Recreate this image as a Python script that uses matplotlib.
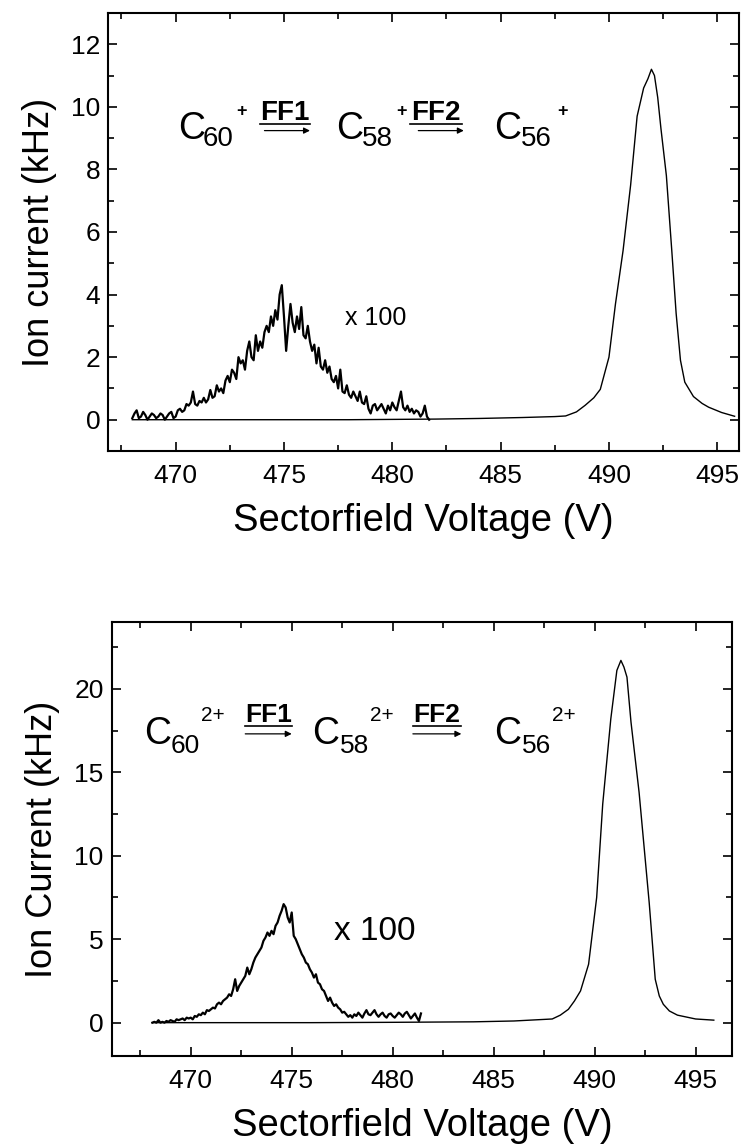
import matplotlib
matplotlib.use("Agg")
import matplotlib.pyplot as plt
import numpy as np
from matplotlib.ticker import MultipleLocator

plt.rcParams['font.family'] = ['Liberation Sans', 'DejaVu Sans']

# ---------------- data: top panel (C60+) ----------------
top_main_x = [468.0, 470.0, 472.0, 474.0, 476.0, 478.0, 480.0, 482.0, 484.0, 486.0,
              487.5, 488.0, 488.5, 488.9, 489.3, 489.6, 490.0, 490.3, 490.65, 491.0,
              491.3, 491.6, 491.8, 491.96, 492.1, 492.25, 492.4, 492.65, 492.9, 493.1,
              493.3, 493.5, 493.9, 494.3, 494.6, 495.2, 495.8]
top_main_y = [0.0, 0.0, 0.0, 0.0, 0.0, 0.0, 0.01, 0.02, 0.04, 0.07,
              0.1, 0.12, 0.25, 0.46, 0.7, 0.97, 2.0, 3.7, 5.4, 7.5,
              9.7, 10.6, 10.9, 11.2, 11.0, 10.3, 9.3, 7.8, 5.4, 3.4,
              1.9, 1.2, 0.74, 0.52, 0.4, 0.23, 0.11]

top_x100_start = 468.0
top_x100_step = 0.1
top_x100_y = [0.05, 0.2, 0.3, 0.05, 0.1, 0.25, 0.15, 0.0, 0.1, 0.2,
              0.15, 0.05, 0.1, 0.2, 0.15, 0.0, 0.1, 0.2, 0.25, 0.05,
              0.1, 0.3, 0.35, 0.25, 0.3, 0.5, 0.45, 0.55, 0.9, 0.5,
              0.45, 0.6, 0.55, 0.7, 0.55, 0.65, 0.95, 0.7, 0.75, 1.1,
              0.9, 1.0, 0.85, 1.25, 1.4, 1.2, 1.6, 1.5, 1.3, 2.0,
              1.8, 1.9, 1.6, 2.2, 2.5, 2.0, 1.9, 2.7, 2.2, 2.5,
              2.3, 2.8, 3.0, 2.8, 3.3, 3.0, 3.5, 3.2, 4.0, 4.3,
              3.3, 2.2, 3.0, 3.7, 3.1, 2.8, 3.3, 2.9, 3.6, 2.7,
              2.6, 3.0, 2.5, 2.2, 2.4, 1.8, 2.3, 1.7, 1.6, 1.9,
              1.5, 1.7, 1.3, 1.2, 1.4, 1.0, 1.6, 0.9, 0.85, 1.1,
              0.8, 0.7, 0.9, 0.75, 0.6, 0.9, 0.55, 0.5, 0.75, 0.35,
              0.2, 0.45, 0.5, 0.3, 0.4, 0.5, 0.35, 0.2, 0.45, 0.3,
              0.55, 0.4, 0.3, 0.6, 0.9, 0.4, 0.3, 0.45, 0.25, 0.35,
              0.2, 0.3, 0.25, 0.1, 0.2, 0.45, 0.1, 0.0]

# ---------------- data: bottom panel (C60 2+) ----------------
bot_main_x = [468.1, 472.0, 476.0, 480.0, 484.0, 486.0, 487.9, 488.3, 488.7, 489.0,
              489.3, 489.7, 490.1, 490.4, 490.8, 491.1, 491.3, 491.45, 491.6, 491.8,
              492.2, 492.7, 493.0, 493.2, 493.4, 493.7, 494.1, 495.0, 495.9]
bot_main_y = [0.0, 0.0, 0.0, 0.02, 0.05, 0.1, 0.22, 0.45, 0.8, 1.3,
              1.9, 3.5, 7.5, 13.1, 18.2, 21.1, 21.7, 21.3, 20.7, 18.0,
              13.8, 7.2, 2.6, 1.6, 1.1, 0.7, 0.45, 0.22, 0.15]

bot_x100_start = 468.1
bot_x100_step = 0.1
bot_x100_y = [0.0, 0.05, 0.0, 0.15, 0.0, 0.05, 0.0, 0.1, 0.05, 0.15,
              0.1, 0.05, 0.2, 0.15, 0.2, 0.25, 0.15, 0.3, 0.25, 0.3,
              0.2, 0.4, 0.35, 0.5, 0.45, 0.6, 0.5, 0.75, 0.7, 0.8,
              0.9, 0.85, 1.1, 1.2, 1.1, 1.3, 1.4, 1.5, 1.7, 1.6,
              2.0, 2.6, 1.9, 2.2, 2.4, 2.6, 2.8, 3.3, 2.9, 3.2,
              3.6, 3.9, 4.1, 4.3, 4.5, 4.9, 5.1, 5.4, 5.2, 5.5,
              5.3, 5.8, 6.0, 6.4, 6.7, 7.1, 6.9, 6.3, 6.0, 6.6,
              5.2, 5.0, 4.7, 4.4, 4.1, 3.9, 3.6, 3.5, 3.2, 3.0,
              2.7, 2.9, 2.4, 2.3, 2.0, 1.9, 1.6, 1.3, 1.5, 1.2,
              1.0, 1.1, 0.9, 0.8, 0.6, 0.65, 0.5, 0.35, 0.45, 0.3,
              0.5, 0.4, 0.6, 0.45, 0.3, 0.55, 0.75, 0.5, 0.45, 0.6,
              0.75, 0.5, 0.35, 0.5, 0.6, 0.4, 0.3, 0.5, 0.55, 0.4,
              0.3, 0.45, 0.6, 0.5, 0.35, 0.55, 0.65, 0.45, 0.25, 0.4,
              0.55, 0.3, 0.1, 0.55]

x_ticks = [470, 475, 480, 485, 490, 495]
top_yticks = [0, 2, 4, 6, 8, 10, 12]
bot_yticks = [0, 5, 10, 15, 20]

top_x100_x = top_x100_start + top_x100_step * np.arange(len(top_x100_y))
bot_x100_x = bot_x100_start + bot_x100_step * np.arange(len(bot_x100_y))

fig = plt.figure(figsize=(7.42, 11.47), dpi=100)
ax1 = fig.add_axes([0.1462, 0.6068, 0.8497, 0.3819])
ax2 = fig.add_axes([0.1509, 0.0793, 0.8356, 0.3784])


def style(ax, xlim, ylim, yticks, yminor, ylabel):
    ax.set_xlim(*xlim)
    ax.set_ylim(*ylim)
    ax.set_xticks(x_ticks)
    ax.set_yticks(yticks)
    ax.xaxis.set_minor_locator(MultipleLocator(2.5))
    ax.yaxis.set_minor_locator(MultipleLocator(yminor))
    ax.tick_params(which='both', direction='in', top=True, right=True, width=1.2)
    ax.tick_params(which='major', length=6.5)
    ax.tick_params(which='minor', length=4.5)
    ax.tick_params(axis='x', labelsize=19, pad=9)
    ax.tick_params(axis='y', labelsize=19, pad=6)
    for s in ax.spines.values():
        s.set_linewidth(1.5)
    ax.set_xlabel('Sectorfield Voltage (V)', fontsize=27.5, labelpad=11)
    ax.set_ylabel(ylabel, fontsize=26, labelpad=10)


def reaction(ax, parts, c_fs, sub_fs, sup_fs, ff_fs, sup_bold):
    for (cx, subx, supx, cy, suby, supy, sup) in parts['species']:
        ax.text(cx, cy, 'C', fontsize=c_fs, ha='left', va='center')
        ax.text(subx, suby, sup[0], fontsize=sub_fs, ha='left', va='center')
        ax.text(supx, supy, sup[1], fontsize=sup_fs, ha='left', va='center',
                fontweight='bold' if sup_bold else 'normal')
    for (label, tx, ty, ux0, ux1, uy, ax0, ax1_, ay) in parts['steps']:
        ax.text(tx, ty, label, fontsize=ff_fs, fontweight='bold',
                ha='center', va='center')
        ax.plot([ux0, ux1], [uy, uy], color='black', lw=1.2)
        ax.annotate('', xy=(ax1_, ay), xytext=(ax0, ay),
                    arrowprops=dict(arrowstyle='-|>', lw=0.9, color='black',
                                    mutation_scale=9, shrinkA=0, shrinkB=0))


# ---- top panel ----
ax1.plot(top_main_x, top_main_y, color='black', lw=1.0)
ax1.plot(top_x100_x, top_x100_y, color='black', lw=1.6)
style(ax1, (466.9, 496.0), (-1, 13), top_yticks, 1, 'Ion current (kHz)')
ax1.text(477.8, 3.26, 'x 100', fontsize=18, ha='left', va='center')
reaction(ax1, {
    'species': [
        (470.1, 471.25, 472.8, 9.3, 8.98, 9.84, ('60', '+')),
        (477.4, 478.6, 480.2, 9.3, 8.98, 9.84, ('58', '+')),
        (484.7, 485.95, 487.6, 9.3, 8.98, 9.84, ('56', '+')),
    ],
    'steps': [
        ('FF1', 475.03, 9.8, 473.9, 476.2, 9.46, 474.1, 476.2, 9.24),
        ('FF2', 482.0, 9.8, 480.8, 483.2, 9.46, 481.2, 483.3, 9.24),
    ]}, 27, 20, 13, 20, True)

# ---- bottom panel ----
ax2.plot(bot_main_x, bot_main_y, color='black', lw=1.0)
ax2.plot(bot_x100_x, bot_x100_y, color='black', lw=1.6)
style(ax2, (466.1, 496.8), (-2, 24), bot_yticks, 2.5, 'Ion Current (kHz)')
ax2.text(477.1, 5.47, 'x 100', fontsize=24, ha='left', va='center')
reaction(ax2, {
    'species': [
        (467.7, 469.0, 470.5, 17.3, 16.6, 18.4, ('60', '2+')),
        (476.0, 477.4, 478.9, 17.3, 16.6, 18.4, ('58', '2+')),
        (485.0, 486.4, 487.9, 17.3, 16.6, 18.4, ('56', '2+')),
    ],
    'steps': [
        ('FF1', 473.85, 18.45, 472.7, 475.0, 17.75, 472.7, 475.0, 17.3),
        ('FF2', 482.2, 18.45, 481.0, 483.4, 17.75, 481.0, 483.4, 17.3),
    ]}, 27, 19, 15, 19, False)

fig.savefig('out.png', dpi=100)
